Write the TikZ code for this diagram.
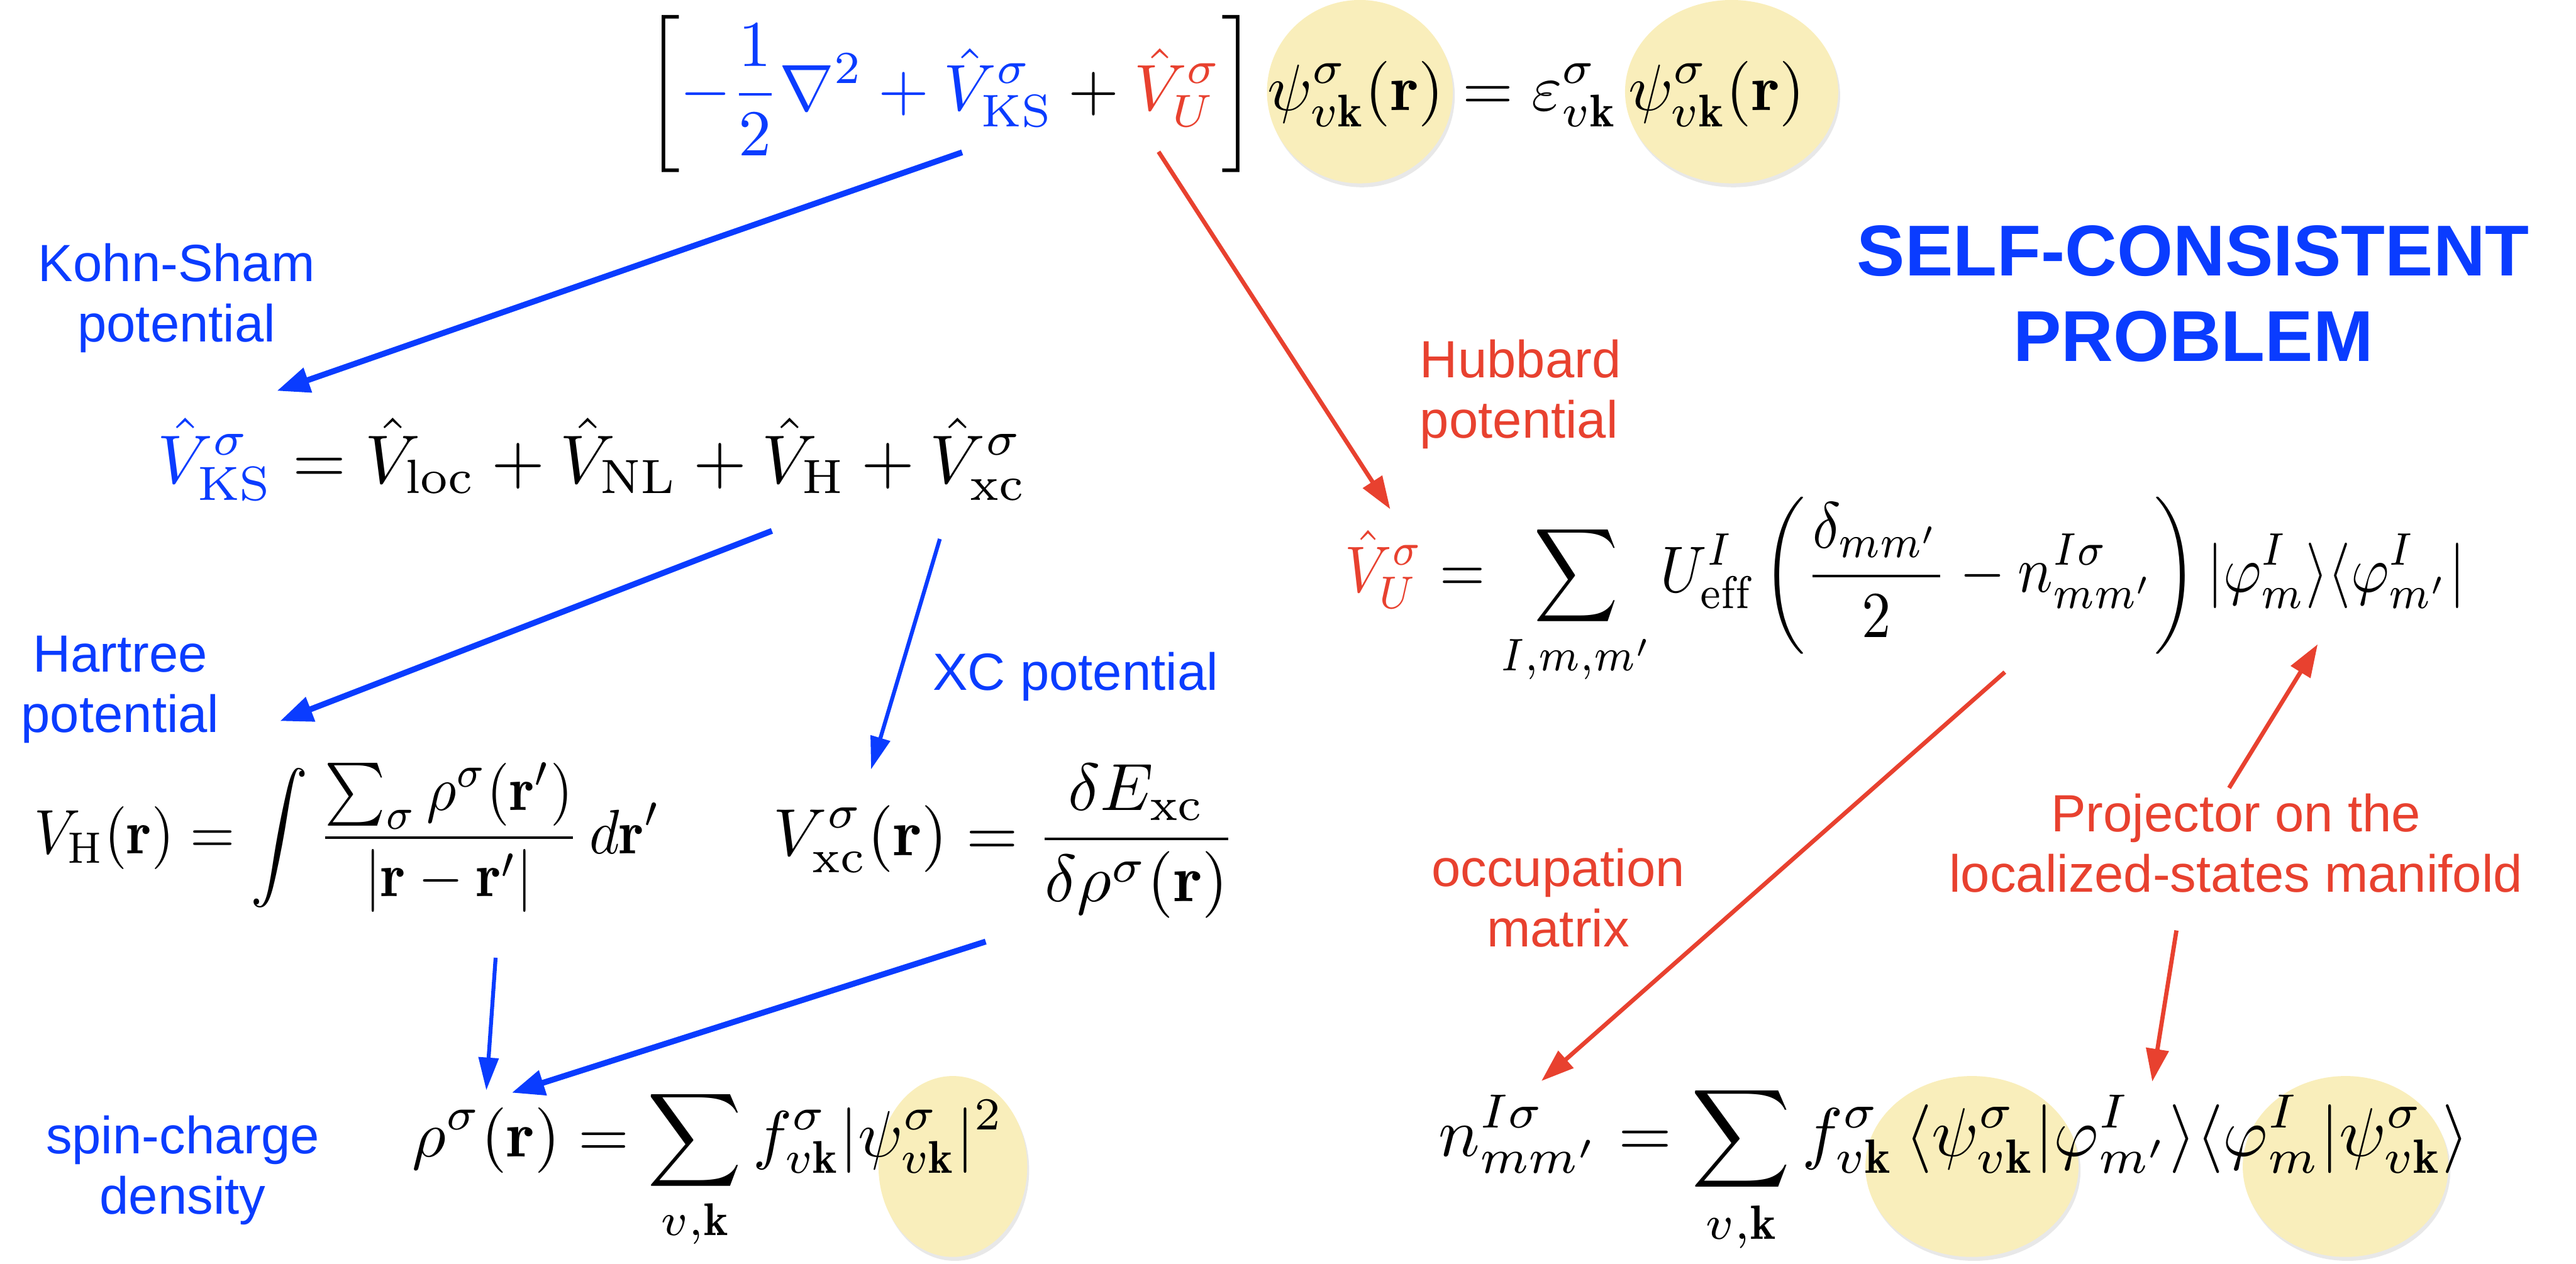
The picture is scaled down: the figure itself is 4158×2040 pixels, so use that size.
\documentclass[tikz,border=0pt]{standalone}
\usepackage{amsmath}
\usepackage{fontspec}
\newfontfamily\arialfont{Liberation Sans}
\usetikzlibrary{arrows.meta, shadows}
\definecolor{ksblue}{HTML}{0A3CFF}
\definecolor{hubred}{HTML}{E8412F}
\definecolor{psiyellow}{HTML}{F9EEBB}

\tikzset{
  eqn/.style={anchor=west, inner sep=0pt},
  lbl/.style={font=\arialfont\fontsize{8}{9.2}\selectfont, align=center, anchor=base, inner sep=0pt},
  bluearrow/.style={draw=ksblue, line width=0.9pt, -{Triangle[length=5pt, width=3.8pt]}},
  thinblue/.style={draw=ksblue, line width=0.6pt, -{Triangle[length=5pt, width=3pt]}},
  redarrow/.style={draw=hubred, line width=0.65pt, -{Triangle[length=5pt, width=3.4pt]}},
  psiblob/.style={fill=psiyellow, draw=none,
    drop shadow={shadow xshift=0.3pt, shadow yshift=-0.6pt, opacity=0.18}},
}

\begin{document}
\begin{tikzpicture}[x=0.0033333cm, y=-0.0033333cm]
  \useasboundingbox (0,0) rectangle (4158,2040);

  % highlighted wave functions
  \fill[psiblob] (2195,148) ellipse [x radius=150, y radius=148];
  \fill[psiblob] (2795,148) ellipse [x radius=172, y radius=148];
  \fill[psiblob] (1538,1883) ellipse [x radius=120, y radius=146];
  \fill[psiblob] (3183,1883) ellipse [x radius=172, y radius=146];
  \fill[psiblob] (3786,1883) ellipse [x radius=166, y radius=146];

  % equations
  \node[eqn] (ksEq) at (1040,152) {$\displaystyle \left[{\color{ksblue}-\frac{1}{2}\nabla^2+\hat V^\sigma_{\mathrm{KS}}}+{\color{hubred}\hat V^\sigma_U}\right]\psi^\sigma_{v\mathbf{k}}(\mathbf{r})=\varepsilon^\sigma_{v\mathbf{k}}\,\psi^\sigma_{v\mathbf{k}}(\mathbf{r})$};
  \node[eqn] (vksEq) at (252,742) {\scalebox{1.05}{$\displaystyle {\color{ksblue}\hat V^\sigma_{\mathrm{KS}}}=\hat V_{\mathrm{loc}}+\hat V_{\mathrm{NL}}+\hat V_{\mathrm{H}}+\hat V^\sigma_{\mathrm{xc}}$}};
  \node[eqn] (vhEq) at (53,1352) {\scalebox{0.88}[0.96]{$\displaystyle V_{\mathrm{H}}(\mathbf{r})=\int\frac{\sum_\sigma\rho^\sigma(\mathbf{r}')}{|\mathbf{r}-\mathbf{r}'|}\,d\mathbf{r}'$}};
  \node[eqn] (vxcEq) at (1246,1358) {\scalebox{1.02}{$\displaystyle V^\sigma_{\mathrm{xc}}(\mathbf{r})=\frac{\delta E_{\mathrm{xc}}}{\delta\rho^\sigma(\mathbf{r})}$}};
  \node[eqn] (rhoEq) at (663,1888) {$\displaystyle \rho^\sigma(\mathbf{r})=\sum_{v,\mathbf{k}}f^\sigma_{v\mathbf{k}}|\psi^\sigma_{v\mathbf{k}}|^2$};
  \node[eqn] (vuEq) at (2169,955) {\scalebox{0.89}[1]{$\displaystyle {\color{hubred}\hat V^\sigma_U}=\sum_{I,m,m'}U^I_{\mathrm{eff}}\left(\frac{\delta_{mm'}}{2}-n^{I\sigma}_{mm'}\right)|\varphi^I_m\rangle\langle\varphi^I_{m'}|$}};
  \node[eqn] (occEq) at (2320,1888) {\scalebox{1.05}{$\displaystyle n^{I\sigma}_{mm'}=\sum_{v,\mathbf{k}}f^\sigma_{v\mathbf{k}}\,\langle\psi^\sigma_{v\mathbf{k}}|\varphi^I_{m'}\rangle\langle\varphi^I_m|\psi^\sigma_{v\mathbf{k}}\rangle$}};

  % labels (anchored on the baseline of their last line)
  \node[lbl, text=ksblue] (ksLbl) at (285,552) {Kohn-Sham\\potential};
  \node[lbl, text=ksblue] (hartLbl) at (194,1182) {Hartree\\potential};
  \node[lbl, text=ksblue] (xcLbl) at (1736,1114) {XC potential};
  \node[lbl, text=ksblue] (rhoLbl) at (295,1960) {spin-charge\\density};
  \node[lbl, text=hubred, align=left, anchor=base west] (hubLbl) at (2290,707) {Hubbard\\potential};
  \node[lbl, text=hubred] (occLbl) at (2515,1528) {occupation\\matrix};
  \node[lbl, text=hubred] (projLbl) at (3609,1440) {Projector on the\\localized-states manifold};
  \node[lbl, text=ksblue, font=\arialfont\bfseries\fontsize{11}{13}\selectfont] (title) at (3540,583) {SELF-CONSISTENT\\PROBLEM};

  % arrow ends
  \coordinate (ksTail) at (1553,246);   \coordinate (ksHead) at (447,631);
  \coordinate (hTail) at (1246,857);    \coordinate (hHead) at (452,1164);
  \coordinate (xcTail) at (1517,870);   \coordinate (xcHead) at (1406,1242);
  \coordinate (vhTail) at (800,1546);   \coordinate (vhHead) at (785,1760);
  \coordinate (vxcTail) at (1591,1520); \coordinate (vxcHead) at (826,1764);
  \coordinate (uTail) at (1870,245);    \coordinate (uHead) at (2244,822);
  \coordinate (nTail) at (3236,1085);   \coordinate (nHead) at (2488,1745);
  \coordinate (pUpTail) at (3598,1272); \coordinate (pUpHead) at (3741,1040);
  \coordinate (pDnTail) at (3513,1502); \coordinate (pDnHead) at (3474,1746);

  \draw[bluearrow] (ksTail) -- (ksHead);
  \draw[bluearrow] (hTail) -- (hHead);
  \draw[thinblue] (xcTail) -- (xcHead);
  \draw[thinblue] (vhTail) -- (vhHead);
  \draw[bluearrow] (vxcTail) -- (vxcHead);
  \draw[redarrow] (uTail) -- (uHead);
  \draw[redarrow] (nTail) -- (nHead);
  \draw[redarrow] (pUpTail) -- (pUpHead);
  \draw[redarrow] (pDnTail) -- (pDnHead);
\end{tikzpicture}
\end{document}
